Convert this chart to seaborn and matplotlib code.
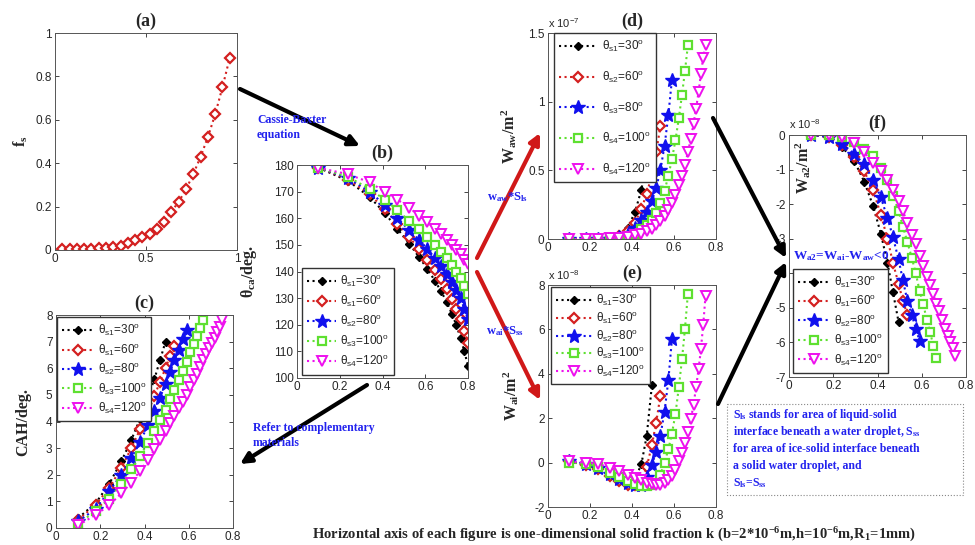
import matplotlib
matplotlib.use('Agg')
import matplotlib.pyplot as plt
import seaborn as sns
from matplotlib.patches import Rectangle
from matplotlib.ticker import FuncFormatter

# --- du lieu doc tu hinh ---
# (a) f_s theo k
k_a = [0.04, 0.08, 0.12, 0.16, 0.20, 0.24, 0.28, 0.32, 0.36, 0.40, 0.44, 0.48,
       0.52, 0.56, 0.60, 0.64, 0.68, 0.72, 0.76, 0.80, 0.84, 0.88, 0.92, 0.96]
fs_a = [0.003, 0.003, 0.003, 0.004, 0.005, 0.007, 0.010, 0.015, 0.020, 0.030, 0.045, 0.060,
        0.075, 0.095, 0.130, 0.177, 0.223, 0.280, 0.350, 0.430, 0.520, 0.625, 0.750, 0.885]

# (b) goc tiep xuc bieu kien
k_b = [0.10, 0.24, 0.34, 0.41, 0.47, 0.525, 0.57, 0.61, 0.645, 0.675, 0.70, 0.725, 0.745, 0.765, 0.783, 0.80]
theta_30 = [179, 174, 168, 162, 156, 150.5, 145.5, 141, 136.5, 132.5, 128.5, 124, 120, 115, 110, 104.5]
theta_60 = [179, 174.5, 169, 163.5, 158, 153, 148.5, 144.5, 140.5, 137, 133.5, 129.5, 126, 122, 117.5, 113]
theta_80 = [179, 175, 170, 165, 160, 155.5, 152, 148.5, 145, 142, 139, 136, 133, 130, 126, 122]
theta_100 = [179, 175.5, 171, 167, 163, 159, 156, 153, 150, 147.5, 145, 142.5, 140, 137.5, 134.5, 131.5]
theta_120 = [179, 176.5, 173.5, 170, 167, 164, 161, 158.5, 156, 154, 152, 150, 148, 146.5, 144.5, 143]

# luoi k chung cho (c)-(f); moi chuoi dung so diem dau tien bang do dai cua no
k_grid = [0.10, 0.18, 0.24, 0.295, 0.34, 0.38, 0.415, 0.445, 0.47, 0.495, 0.515, 0.535, 0.555, 0.573,
          0.59, 0.607, 0.623, 0.638, 0.652, 0.666, 0.68, 0.693, 0.705, 0.717, 0.728, 0.739, 0.75]

# (c) CAH
cah_30 = [0.37, 0.94, 1.65, 2.5, 3.3, 4.1, 4.9, 5.6, 6.3, 7.0]
cah_60 = [0.3, 0.88, 1.5, 2.25, 3.0, 3.7, 4.35, 4.95, 5.5, 6.0, 6.45, 6.85]
cah_80 = [0.25, 0.72, 1.38, 2.0, 2.62, 3.24, 3.85, 4.4, 4.9, 5.4, 5.85, 6.3, 6.7, 7.1, 7.45]
cah_100 = [0.15, 0.65, 1.1, 1.65, 2.2, 2.7, 3.2, 3.65, 4.05, 4.45, 4.85, 5.2, 5.55, 5.9,
           6.25, 6.6, 6.9, 7.2, 7.5, 7.8]
cah_120 = [0.1, 0.5, 0.85, 1.3, 1.7, 2.15, 2.55, 2.95, 3.3, 3.65, 3.95, 4.2, 4.5, 4.75,
           5.0, 5.3, 5.55, 5.8, 6.05, 6.3, 6.55, 6.75, 6.95, 7.15, 7.35, 7.55, 7.8]

# (d) W_aw (x 1e-7)
waw_30 = [0, 0, 0, 0.005, 0.03, 0.08, 0.2, 0.36, 0.58, 0.89]
waw_60 = [0, 0, 0, 0.003, 0.02, 0.06, 0.12, 0.22, 0.33, 0.47, 0.63, 0.82]
waw_80 = [0, 0, 0, 0.002, 0.015, 0.04, 0.08, 0.14, 0.2, 0.28, 0.37, 0.5, 0.68, 0.9, 1.16]
waw_100 = [0, 0, 0, 0.002, 0.008, 0.02, 0.04, 0.07, 0.1, 0.14, 0.19, 0.26, 0.35, 0.46,
           0.58, 0.72, 0.88, 1.05, 1.22, 1.41]
waw_120 = [0, 0, 0.002, 0.005, 0.01, 0.018, 0.028, 0.04, 0.055, 0.075, 0.1, 0.13, 0.17, 0.21,
           0.26, 0.32, 0.39, 0.46, 0.54, 0.63, 0.73, 0.84, 0.95, 1.07, 1.2, 1.32, 1.41]

# (e) W_ai (x 1e-8)
wai_30 = [0.05, -0.1, -0.3, -0.6, -0.85, -1.0, -0.75, -0.05, 1.2, 3.5]
wai_60 = [0.05, -0.1, -0.3, -0.6, -0.85, -1.0, -1.0, -0.8, -0.2, 0.8, 1.8, 3.0]
wai_80 = [0.05, -0.05, -0.25, -0.5, -0.75, -0.9, -1.0, -1.0, -0.65, -0.1, 0.5, 1.2, 2.3, 3.7, 5.55]
wai_100 = [0.0, -0.05, -0.2, -0.45, -0.65, -0.85, -0.95, -1.05, -1.05, -1.0, -0.9, -0.55, 0.0, 0.6,
           1.3, 2.2, 3.4, 4.65, 6.0, 7.6]
wai_120 = [0.05, 0.0, -0.05, -0.25, -0.4, -0.55, -0.7, -0.8, -0.9, -0.95, -1.0, -1.0, -0.9, -0.8,
           -0.6, -0.35, 0.05, 0.45, 0.9, 1.4, 1.95, 2.6, 3.4, 4.2, 5.1, 6.2, 7.5]

# (f) W_a2 (x 1e-8)
wa2_30 = [0, -0.05, -0.35, -0.75, -1.35, -2.05, -2.85, -3.7, -4.55, -5.4]
wa2_60 = [0, -0.05, -0.3, -0.65, -1.05, -1.6, -2.3, -3.0, -3.7, -4.3, -4.8, -5.2]
wa2_80 = [0, -0.05, -0.25, -0.55, -0.85, -1.3, -1.8, -2.4, -2.95, -3.6, -4.2, -4.8, -5.2, -5.6, -5.95]
wa2_100 = [0, 0, -0.05, -0.2, -0.4, -0.6, -0.95, -1.3, -1.75, -2.2, -2.65, -3.1, -3.55, -4.0,
           -4.5, -4.9, -5.35, -5.7, -6.1, -6.45]
wa2_120 = [0, 0, -0.07, -0.24, -0.5, -0.8, -1.05, -1.3, -1.6, -1.9, -2.2, -2.55, -2.9, -3.15,
           -3.5, -3.8, -4.1, -4.35, -4.6, -4.9, -5.1, -5.35, -5.6, -5.8, -6.0, -6.15, -6.4]

labels_1 = [r'$\theta_{s1}$=30$^o$', r'$\theta_{s1}$=60$^o$', r'$\theta_{s2}$=80$^o$',
            r'$\theta_{s3}$=100$^o$', r'$\theta_{s4}$=120$^o$']
labels_d = [r'$\theta_{s1}$=30$^o$', r'$\theta_{s2}$=60$^o$', r'$\theta_{s3}$=80$^o$',
            r'$\theta_{s4}$=100$^o$', r'$\theta_{s4}$=120$^o$']

# --- kieu ve ---
sns.set_style('ticks')
plt.rcParams['font.family'] = ['Liberation Sans', 'DejaVu Sans']
plt.rcParams['mathtext.default'] = 'regular'
plt.rcParams.update({
    'xtick.direction': 'in', 'ytick.direction': 'in',
    'xtick.top': True, 'ytick.right': True,
    'xtick.major.size': 3, 'ytick.major.size': 3,
    'xtick.major.width': 0.6, 'ytick.major.width': 0.6,
    'xtick.labelsize': 8.5, 'ytick.labelsize': 8.5,
    'xtick.major.pad': 2.5, 'ytick.major.pad': 2.5,
    'axes.linewidth': 0.7, 'axes.edgecolor': '#555555',
})

RED = '#d42020'
BLUE = '#1010ee'
GREEN = '#5ee030'
MAG = '#ee10ee'
styles = [
    dict(color='black', marker='D', markersize=4, markerfacecolor='black',
         markeredgecolor='black', markeredgewidth=1),
    dict(color=RED, marker='D', markersize=5.5, markerfacecolor='white',
         markeredgecolor=RED, markeredgewidth=1.6),
    dict(color=BLUE, marker='*', markersize=10, markerfacecolor=BLUE,
         markeredgecolor=BLUE, markeredgewidth=1),
    dict(color=GREEN, marker='s', markersize=6, markerfacecolor='white',
         markeredgecolor=GREEN, markeredgewidth=1.6),
    dict(color=MAG, marker='v', markersize=7, markerfacecolor='white',
         markeredgecolor=MAG, markeredgewidth=1.4),
]

serif_b = dict(family='Liberation Serif', weight='bold')
blue_txt = dict(family='Liberation Serif', weight='bold', color='#2222ee')
fmt = FuncFormatter(lambda v, p: f'{round(v, 6) + 0:g}')

W, H = 975, 545
fig = plt.figure(figsize=(9.75, 5.45), dpi=100)


def panel(l, t, r, b):
    ax = fig.add_axes([l / W, 1 - b / H, (r - l) / W, (b - t) / H])
    ax.xaxis.set_major_formatter(fmt)
    ax.yaxis.set_major_formatter(fmt)
    return ax


def draw_series(ax, xs, series, labels):
    for y, lab, st in zip(series, labels, styles):
        sns.lineplot(x=xs[:len(y)], y=y, ax=ax, label=lab, linestyle=':',
                     linewidth=1.5, errorbar=None, **st)


def put_legend(ax, loc, anchor, spacing, hl=2.6):
    ax.legend(loc=loc, bbox_to_anchor=anchor, fontsize=8.5, frameon=True, fancybox=False,
              edgecolor='#333333', framealpha=1, handlelength=hl, labelspacing=spacing,
              borderpad=0.45, handletextpad=0.4, borderaxespad=0, numpoints=1)


def finish(ax, title, ylabel, xlab_x, xlim, ylim, yticks, xticks=(0, 0.2, 0.4, 0.6, 0.8)):
    ax.set_xlim(*xlim)
    ax.set_ylim(*ylim)
    ax.set_xticks(xticks)
    ax.set_yticks(yticks)
    ax.set_xlabel('')
    ax.set_title(title, fontsize=13, pad=5, **serif_b)
    if ylabel:
        ax.set_ylabel(ylabel, fontsize=11.5, **serif_b)
        ax.yaxis.set_label_coords(xlab_x, 0.5)


# (a)
ax_a = panel(55, 33, 237, 250)
sns.lineplot(x=k_a, y=fs_a, ax=ax_a, linestyle=':', linewidth=1.5, errorbar=None, **styles[1])
finish(ax_a, '(a)', 'f$_s$', -0.14, (0, 1), (0, 1), [0, 0.2, 0.4, 0.6, 0.8, 1], xticks=[0, 0.5, 1])

# (b)
ax_b = panel(297, 165, 468, 378)
draw_series(ax_b, k_b, [theta_30, theta_60, theta_80, theta_100, theta_120], labels_1)
finish(ax_b, '(b)', r'$\theta_{ca}$/deg.', -0.22, (0, 0.8), (100, 180), range(100, 181, 10))
put_legend(ax_b, 'lower left', (0.03, 0.015), 0.35, hl=2.4)

# (c)
ax_c = panel(56, 315, 233, 528)
draw_series(ax_c, k_grid, [cah_30, cah_60, cah_80, cah_100, cah_120], labels_1)
finish(ax_c, '(c)', 'CAH/deg.', -0.14, (0, 0.8), (0, 8), range(0, 9))
put_legend(ax_c, 'upper left', (0.005, 0.99), 0.3, hl=2.6)

# (d)
ax_d = panel(548, 33, 716, 239)
draw_series(ax_d, k_grid, [waw_30, waw_60, waw_80, waw_100, waw_120], labels_d)
finish(ax_d, '(d)', 'W$_{aw}$/m$^2$', -0.17, (0, 0.8), (0, 1.5), [0, 0.5, 1, 1.5])
put_legend(ax_d, 'upper left', (0.035, 1.0), 1.25, hl=3.2)
ax_d.text(0, 1.015, 'x 10$^{-7}$', transform=ax_d.transAxes, fontsize=8, va='bottom')

# (e)
ax_e = panel(548, 285, 716, 507)
draw_series(ax_e, k_grid, [wai_30, wai_60, wai_80, wai_100, wai_120], labels_1)
finish(ax_e, '(e)', 'W$_{ai}$/m$^2$', -0.16, (0, 0.8), (-2, 8), range(-2, 9, 2))
put_legend(ax_e, 'upper left', (0.018, 0.99), 0.15, hl=3.0)
ax_e.text(0, 1.015, 'x 10$^{-8}$', transform=ax_e.transAxes, fontsize=8, va='bottom')

# (f)
ax_f = panel(789, 135, 966, 377)
draw_series(ax_f, k_grid, [wa2_30, wa2_60, wa2_80, wa2_100, wa2_120], labels_1)
finish(ax_f, '(f)', None, 0, (0, 0.8), (-7, 0), range(-7, 1))
put_legend(ax_f, 'lower left', (0.023, 0.017), 0.3, hl=2.6)
ax_f.text(0, 1.015, 'x 10$^{-8}$', transform=ax_f.transAxes, fontsize=8, va='bottom')
ax_f.text(0.063, -0.95, 'W$_{a2}$/m$^2$', rotation=90, ha='center', va='center', fontsize=11.5, **serif_b)
ax_f.text(0.017, -3.5, 'W$_{a2}$=W$_{ai}$-W$_{aw}$<0', fontsize=9.5, va='center', **blue_txt)

# --- mui ten va chu thich tren toan hinh ---
ov = fig.add_axes([0, 0, 1, 1], zorder=10)
ov.set_xlim(0, W)
ov.set_ylim(H, 0)
ov.axis('off')
ov.patch.set_alpha(0)

black_arrow = dict(arrowstyle='-|>', color='black', lw=3, mutation_scale=16, shrinkA=0, shrinkB=0)
red_arrow = dict(arrowstyle='-|>', color='#d01818', lw=3, mutation_scale=16, shrinkA=0, shrinkB=0)
ov.annotate('', xy=(360, 146), xytext=(240, 89), arrowprops=black_arrow)
ov.annotate('', xy=(240, 464), xytext=(367, 385), arrowprops=black_arrow)
ov.annotate('', xy=(540, 133), xytext=(477, 258), arrowprops=red_arrow)
ov.annotate('', xy=(540, 400), xytext=(477, 272), arrowprops=red_arrow)
ov.annotate('', xy=(786, 258), xytext=(713, 118), arrowprops=black_arrow)
ov.annotate('', xy=(786, 262), xytext=(718, 404), arrowprops=black_arrow)

ov.text(257, 120, 'Cassie-Baxter', fontsize=8.5, va='center', **blue_txt)
ov.text(257, 135, 'equation', fontsize=8.5, va='center', **blue_txt)
ov.text(253, 428, 'Refer to complementary', fontsize=8.5, va='center', **blue_txt)
ov.text(253, 443, 'materials', fontsize=8.5, va='center', **blue_txt)
ov.text(487, 197, 'w$_{aw}$*S$_{ls}$', fontsize=9, va='center', **blue_txt)
ov.text(486, 331, 'w$_{ai}$*S$_{ss}$', fontsize=9, va='center', **blue_txt)

ov.add_patch(Rectangle((727, 404), 236, 91, fill=False, edgecolor='#888888', lw=0.8, linestyle=':'))
note = ['S$_{ls}$ stands for area of liquid-solid',
        'interface beneath a water droplet, S$_{ss}$',
        'for area of ice-solid interface beneath',
        'a solid water droplet, and',
        'S$_{ls}$=S$_{ss}$']
for i, line in enumerate(note):
    ov.text(733, 415 + i * 17, line, fontsize=8.5, va='center', **blue_txt)

ov.text(312, 535, 'Horizontal axis of each figure is one-dimensional solid fraction k '
        '(b=2*10$^{-6}$m,h=10$^{-6}$m,R$_1$=1mm)', fontsize=10.5, va='center', **serif_b)

fig.savefig('out.png', dpi=100)
